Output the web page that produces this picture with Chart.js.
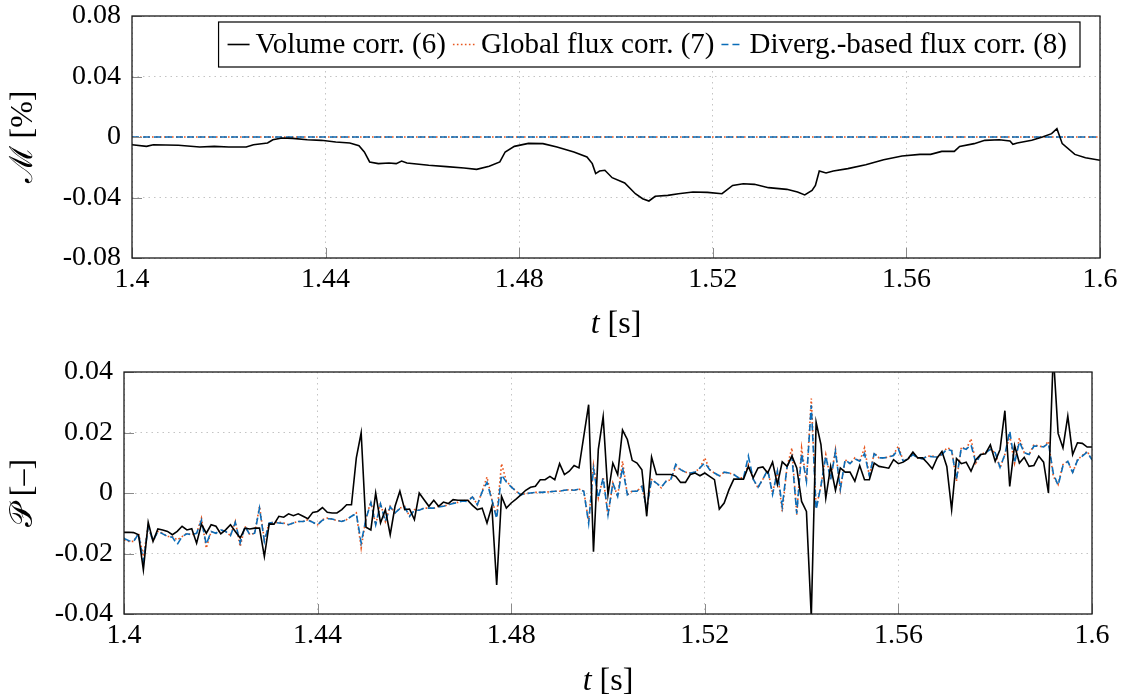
<!DOCTYPE html>
<html>
<head>
<meta charset="utf-8">
<script src="https://cdn.jsdelivr.net/npm/chart.js@4.4.1/dist/chart.umd.min.js"></script>
<style>
  html, body { margin: 0; padding: 0; background: #fff; }
  .panel { position: absolute; left: 0; width: 1125px; height: 349px; }
</style>
</head>
<body>
<div class="panel" style="top:0"><canvas id="topChart" width="1125" height="349"></canvas></div>
<div class="panel" style="top:349px"><canvas id="bottomChart" width="1125" height="349"></canvas></div>
<script>
// ---- data ----
const seriesLabels = ['Volume corr. (6)', 'Global flux corr. (7)', 'Diverg.-based flux corr. (8)'];

const xTicks = [1.4, 1.44, 1.48, 1.52, 1.56, 1.6];
const xTickLabels = ['1.4', '1.44', '1.48', '1.52', '1.56', '1.6'];
const yTicksTop = [-0.08, -0.04, 0, 0.04, 0.08];
const yTickLabelsTop = ['-0.08', '-0.04', '0', '0.04', '0.08'];
const yTicksBottom = [-0.04, -0.02, 0, 0.02, 0.04];
const yTickLabelsBottom = ['-0.04', '-0.02', '0', '0.02', '0.04'];

// top panel: mass error M [%]
const tTop = [1.400,1.403,1.4044,1.4096,1.414,1.417,1.420,1.4236,1.4251,1.428,1.4291,1.431,1.4332,1.4362,1.4391,1.4421,1.445,1.4469,1.448,1.4491,1.4509,1.4531,1.4546,1.4557,1.4568,1.4613,1.465,1.4686,1.4712,1.4738,1.476,1.4771,1.479,1.4819,1.4849,1.4878,1.4913,1.494,1.4951,1.4958,1.4966,1.4977,1.4992,1.5018,1.504,1.5055,1.5068,1.5081,1.5107,1.5129,1.5159,1.5189,1.5219,1.5241,1.5263,1.5286,1.5315,1.5353,1.5375,1.539,1.5405,1.5412,1.542,1.5434,1.5449,1.5479,1.5516,1.5553,1.5591,1.5628,1.565,1.5673,1.5699,1.571,1.574,1.5762,1.5792,1.5814,1.582,1.5829,1.5859,1.5881,1.59,1.5911,1.5922,1.5948,1.597,1.6];
const volumeTop = [-0.0051,-0.0062,-0.0051,-0.0055,-0.0066,-0.0062,-0.0066,-0.0066,-0.0051,-0.0040,-0.0018,-0.0007,-0.0009,-0.0018,-0.0022,-0.0033,-0.0040,-0.0057,-0.0099,-0.0165,-0.0176,-0.0172,-0.0176,-0.0159,-0.0172,-0.0187,-0.0196,-0.0205,-0.0214,-0.0194,-0.0165,-0.0099,-0.0062,-0.0042,-0.0044,-0.0066,-0.0099,-0.0132,-0.0176,-0.0242,-0.0225,-0.0220,-0.0269,-0.0304,-0.0375,-0.0408,-0.0423,-0.0392,-0.0386,-0.0375,-0.0364,-0.0366,-0.0375,-0.0320,-0.0309,-0.0313,-0.0335,-0.0346,-0.0364,-0.0383,-0.0353,-0.0320,-0.0225,-0.0238,-0.0225,-0.0209,-0.0183,-0.0150,-0.0126,-0.0115,-0.0115,-0.0095,-0.0095,-0.0062,-0.0044,-0.0022,-0.0018,-0.0026,-0.0048,-0.0040,-0.0022,0.0000,0.0022,0.0055,-0.0044,-0.0115,-0.0137,-0.0154];
const tFluxTop = [1.4, 1.6];
const globalTop = [0, 0];
const divergTop = [0, 0];

// bottom panel: P [-], one sample per millisecond from 1.400 s to 1.600 s
const tStart = 1.4, dt = 0.001;
const volumeBottom = [
-0.0130,-0.0130,-0.0131,-0.0138,-0.0254,-0.0097,-0.0160,-0.0119,-0.0122,-0.0127,
-0.0138,-0.0127,-0.0110,-0.0122,-0.0118,-0.0166,-0.0103,-0.0133,-0.0105,-0.0110,
-0.0135,-0.0122,-0.0105,-0.0127,-0.0149,-0.0116,-0.0119,-0.0116,-0.0116,-0.0210,
-0.0102,-0.0103,-0.0077,-0.0080,-0.0069,-0.0075,-0.0069,-0.0077,-0.0085,-0.0064,
-0.0061,-0.0048,-0.0064,-0.0066,-0.0066,-0.0055,-0.0039,-0.0039,0.0116,0.0199,
-0.0113,-0.0122,0.0000,-0.0099,-0.0055,-0.0138,-0.0044,0.0006,-0.0055,-0.0053,
-0.0088,0.0000,-0.0022,-0.0044,-0.0024,-0.0044,-0.0030,-0.0035,-0.0022,-0.0024,
-0.0024,-0.0024,-0.0041,-0.0055,-0.0050,-0.0099,-0.0044,-0.0304,-0.0011,-0.0050,
-0.0033,-0.0020,-0.0006,0.0009,0.0019,0.0022,0.0044,0.0044,0.0055,0.0044,
0.0097,0.0061,0.0072,0.0091,0.0083,0.0188,0.0292,-0.0194,0.0144,0.0252,
-0.0006,0.0099,0.0061,0.0208,0.0177,0.0108,0.0099,0.0077,-0.0077,0.0119,
0.0061,0.0061,0.0061,0.0061,0.0055,0.0035,0.0035,0.0061,0.0066,0.0057,
0.0066,0.0055,0.0044,-0.0053,-0.0033,0.0011,0.0046,0.0046,0.0046,0.0088,
0.0050,0.0083,0.0086,0.0066,0.0102,0.0028,0.0103,0.0088,0.0122,0.0083,
-0.0028,-0.0061,-0.0410,0.0234,0.0160,-0.0017,0.0088,0.0009,0.0083,0.0069,
0.0069,0.0039,0.0091,0.0044,0.0044,0.0099,0.0088,0.0085,0.0082,0.0110,
0.0097,0.0102,0.0113,0.0135,0.0116,0.0116,0.0099,0.0080,0.0116,0.0137,
0.0088,-0.0055,0.0114,0.0097,0.0102,0.0072,0.0110,0.0127,0.0130,0.0159,
0.0105,0.0144,0.0272,0.0022,0.0157,0.0099,0.0118,0.0088,0.0091,0.0122,
0.0102,0.0000,0.0460,0.0197,0.0149,0.0254,0.0127,0.0166,0.0164,0.0152,
0.0152];
const globalBottom = [
-0.0155,-0.0160,-0.0160,-0.0133,-0.0210,-0.0110,-0.0160,-0.0127,-0.0133,-0.0144,
-0.0144,-0.0155,-0.0144,-0.0133,-0.0138,-0.0133,-0.0083,-0.0182,-0.0127,-0.0133,
-0.0122,-0.0127,-0.0141,-0.0094,-0.0177,-0.0110,-0.0138,-0.0133,-0.0044,-0.0155,
-0.0099,-0.0097,-0.0097,-0.0099,-0.0105,-0.0099,-0.0094,-0.0094,-0.0088,-0.0097,
-0.0105,-0.0088,-0.0083,-0.0086,-0.0091,-0.0094,-0.0088,-0.0077,-0.0066,-0.0182,
-0.0083,-0.0028,-0.0105,-0.0033,-0.0094,-0.0044,-0.0066,-0.0050,-0.0044,-0.0077,
-0.0055,-0.0057,-0.0050,-0.0050,-0.0050,-0.0044,-0.0044,-0.0039,-0.0033,-0.0031,
-0.0024,-0.0028,-0.0011,-0.0039,0.0006,0.0053,-0.0022,-0.0077,0.0097,0.0039,
0.0022,0.0006,-0.0006,-0.0002,0.0000,0.0002,0.0002,0.0003,0.0004,0.0006,
0.0006,0.0009,0.0011,0.0009,0.0013,0.0006,-0.0094,0.0091,-0.0017,0.0053,
-0.0077,0.0033,-0.0011,0.0105,-0.0006,0.0006,0.0006,0.0022,-0.0050,0.0044,
0.0033,0.0017,0.0039,0.0044,0.0088,0.0077,0.0069,0.0066,0.0069,0.0083,
0.0116,0.0077,0.0066,0.0055,0.0069,0.0066,0.0061,0.0050,0.0050,0.0094,
0.0046,0.0017,0.0046,0.0077,0.0000,0.0072,-0.0061,0.0088,0.0149,-0.0072,
0.0149,0.0039,0.0312,-0.0050,0.0024,0.0127,0.0044,0.0144,0.0011,0.0110,
0.0097,0.0116,0.0105,0.0149,0.0055,0.0133,0.0116,0.0116,0.0119,0.0127,
0.0155,0.0105,0.0113,0.0129,0.0116,0.0113,0.0122,0.0122,0.0119,0.0127,
0.0149,0.0144,0.0039,0.0152,0.0144,0.0179,0.0099,0.0127,0.0135,0.0144,
0.0133,0.0083,0.0127,0.0190,0.0099,0.0182,0.0133,0.0127,0.0160,0.0155,
0.0152,0.0171,0.0055,0.0028,0.0094,0.0105,0.0066,0.0110,0.0124,0.0138,
0.0110];
const divergBottom = [
-0.0150,-0.0158,-0.0160,-0.0135,-0.0226,-0.0112,-0.0158,-0.0127,-0.0135,-0.0144,
-0.0146,-0.0170,-0.0144,-0.0135,-0.0138,-0.0133,-0.0090,-0.0170,-0.0127,-0.0133,
-0.0122,-0.0127,-0.0141,-0.0097,-0.0165,-0.0110,-0.0138,-0.0133,-0.0050,-0.0160,
-0.0099,-0.0097,-0.0099,-0.0101,-0.0105,-0.0099,-0.0094,-0.0094,-0.0090,-0.0097,
-0.0105,-0.0090,-0.0085,-0.0086,-0.0091,-0.0094,-0.0088,-0.0077,-0.0068,-0.0165,
-0.0085,-0.0032,-0.0105,-0.0036,-0.0094,-0.0046,-0.0066,-0.0052,-0.0046,-0.0077,
-0.0057,-0.0057,-0.0050,-0.0050,-0.0050,-0.0046,-0.0044,-0.0039,-0.0035,-0.0031,
-0.0026,-0.0028,-0.0013,-0.0039,0.0004,0.0035,-0.0022,-0.0085,0.0060,0.0036,
0.0020,0.0006,-0.0006,-0.0002,0.0000,0.0002,0.0002,0.0003,0.0004,0.0006,
0.0006,0.0009,0.0011,0.0009,0.0013,0.0006,-0.0100,0.0080,-0.0017,0.0050,
-0.0072,0.0033,-0.0011,0.0085,-0.0006,0.0006,0.0006,0.0022,-0.0050,0.0044,
0.0033,0.0019,0.0039,0.0046,0.0095,0.0077,0.0069,0.0066,0.0069,0.0083,
0.0100,0.0077,0.0066,0.0057,0.0069,0.0066,0.0061,0.0050,0.0050,0.0122,
0.0046,0.0019,0.0046,0.0077,-0.0005,0.0072,-0.0045,0.0088,0.0120,-0.0068,
0.0130,0.0039,0.0290,-0.0055,0.0024,0.0122,0.0044,0.0138,0.0013,0.0110,
0.0097,0.0113,0.0105,0.0130,0.0057,0.0130,0.0116,0.0116,0.0119,0.0124,
0.0145,0.0105,0.0113,0.0127,0.0116,0.0113,0.0122,0.0120,0.0119,0.0127,
0.0145,0.0140,0.0045,0.0150,0.0144,0.0160,0.0099,0.0127,0.0133,0.0144,
0.0133,0.0085,0.0127,0.0205,0.0099,0.0170,0.0133,0.0127,0.0155,0.0155,
0.0152,0.0165,0.0065,0.0025,0.0090,0.0105,0.0068,0.0108,0.0122,0.0135,
0.0110];

// ---- styling ----
const SERIF = '"Liberation Serif", "Times New Roman", serif';
const BLACK = '#000000';
const ORANGE = '#E8561E';
const BLUE = '#0A6CB8';
const GRID = '#c4c4c4';
const tickFont = { family: SERIF, size: 28, lineHeight: 1 };

const toPoints = (xs, ys) => ys.map((y, i) => ({ x: xs[i], y: y }));
const tBottom = volumeBottom.map((_, i) => +(tStart + i * dt).toFixed(3));

function makeDatasets(tv, volume, tf, global, diverg) {
  return [
    { label: seriesLabels[0], data: toPoints(tv, volume), borderColor: BLACK, borderWidth: 1.6, order: 0 },
    { label: seriesLabels[1], data: toPoints(tf, global), borderColor: ORANGE, borderWidth: 1.6, borderDash: [1.6, 2.4], order: 2 },
    { label: seriesLabels[2], data: toPoints(tf, diverg), borderColor: BLUE, borderWidth: 1.6, borderDash: [7, 4], order: 1 }
  ];
}

// frame, inward ticks, axis titles and the boxed legend
function decor(cfg) {
  return {
    id: 'decor',
    afterDatasetsDraw(chart) {
      const { ctx, chartArea: a, scales } = chart;
      ctx.save();
      ctx.setLineDash([]);
      ctx.strokeStyle = '#8a8a8a';
      ctx.lineWidth = 1;
      ctx.beginPath();
      scales.x.ticks.forEach(t => {
        const px = Math.round(scales.x.getPixelForValue(t.value)) + 0.5;
        ctx.moveTo(px, a.bottom); ctx.lineTo(px, a.bottom - 10);
      });
      scales.y.ticks.forEach(t => {
        const py = Math.round(scales.y.getPixelForValue(t.value)) + 0.5;
        ctx.moveTo(a.left, py); ctx.lineTo(a.left + 10, py);
      });
      ctx.stroke();
      ctx.strokeStyle = '#1a1a1a';
      ctx.lineWidth = 1.3;
      ctx.strokeRect(a.left, a.top, a.right - a.left, a.bottom - a.top);
      ctx.restore();
    },
    afterDraw(chart) {
      const { ctx, chartArea: a } = chart;
      ctx.save();
      ctx.fillStyle = '#000';

      // x title: italic t + " [s]"
      const italic = `italic 32px ${SERIF}`, upright = `32px ${SERIF}`;
      ctx.font = italic; const w1 = ctx.measureText('t').width;
      ctx.font = upright; const w2 = ctx.measureText(' [s]').width;
      const x0 = (a.left + a.right) / 2 - (w1 + w2) / 2;
      ctx.textBaseline = 'alphabetic'; ctx.textAlign = 'left';
      ctx.font = italic; ctx.fillText('t', x0, cfg.xTitleY);
      ctx.font = upright; ctx.fillText(' [s]', x0 + w1, cfg.xTitleY);

      // y title, rotated
      ctx.translate(cfg.yTitleX, (a.top + a.bottom) / 2);
      ctx.rotate(-Math.PI / 2);
      ctx.font = upright; ctx.textAlign = 'center'; ctx.textBaseline = 'alphabetic';
      ctx.fillText(cfg.yTitle, 0, 0);
      ctx.restore();

      if (!cfg.legend) return;
      ctx.save();
      const items = chart.data.datasets.map(ds => ({ text: ds.label, color: ds.borderColor, dash: ds.borderDash || [] }));
      ctx.font = `29px ${SERIF}`;
      const pad = 9, sample = 22, gapText = 6, gapItem = 7, padR = 13;
      let w = pad + padR;
      items.forEach((it, i) => { it.w = ctx.measureText(it.text).width; w += sample + gapText + it.w + (i ? gapItem : 0); });
      const right = a.right - 20, top = a.top + 6, h = 45;
      const left = right - w;
      ctx.fillStyle = '#fff';
      ctx.fillRect(left, top, w, h);
      ctx.strokeStyle = '#000'; ctx.lineWidth = 1.2;
      ctx.strokeRect(left, top, w, h);
      let x = left + pad;
      const cy = top + h / 2;
      items.forEach((it, i) => {
        if (i) x += gapItem;
        ctx.strokeStyle = it.color; ctx.lineWidth = 1.6; ctx.setLineDash(it.dash);
        ctx.beginPath(); ctx.moveTo(x, cy); ctx.lineTo(x + sample, cy); ctx.stroke();
        ctx.setLineDash([]);
        x += sample + gapText;
        ctx.fillStyle = '#000'; ctx.textAlign = 'left'; ctx.textBaseline = 'middle';
        ctx.fillText(it.text, x, cy + 1);
        x += it.w;
      });
      ctx.restore();
    }
  };
}

function noEdgePadding(s) {
  s.paddingTop = 0; s.paddingBottom = 0; s.paddingLeft = 0; s.paddingRight = 0;
}

function makeOptions(cfg) {
  return {
    responsive: false,
    animation: false,
    events: [],
    layout: { padding: { left: 0, right: cfg.padRight, top: cfg.padTop, bottom: 0 } },
    plugins: { legend: { display: false }, tooltip: { enabled: false } },
    elements: { point: { radius: 0 }, line: { tension: 0 } },
    scales: {
      x: {
        type: 'linear', min: 1.4, max: 1.6,
        afterFit: s => { s.height = cfg.xAxisHeight; noEdgePadding(s); },
        afterBuildTicks: s => { s.ticks = xTicks.map(v => ({ value: v })); },
        ticks: { font: tickFont, color: '#000', padding: 8, maxRotation: 0, autoSkip: false,
                 callback: (v, i) => xTickLabels[i] },
        grid: { color: GRID, lineWidth: 1, drawTicks: false },
        border: { display: false, dash: [1.5, 4] }
      },
      y: {
        type: 'linear', min: cfg.yTicks[0], max: cfg.yTicks[cfg.yTicks.length - 1],
        afterFit: s => { s.width = cfg.yAxisWidth; noEdgePadding(s); },
        afterBuildTicks: s => { s.ticks = cfg.yTicks.map(v => ({ value: v })); },
        ticks: { font: tickFont, color: '#000', padding: 11, autoSkip: false,
                 callback: (v, i) => cfg.yTickLabels[i] },
        grid: { color: GRID, lineWidth: 1, drawTicks: false },
        border: { display: false, dash: [1.5, 4] }
      }
    }
  };
}

const topCfg = { padRight: 25, padTop: 16, xAxisHeight: 91, yAxisWidth: 132,
  yTicks: yTicksTop, yTickLabels: yTickLabelsTop, xTitleY: 333, yTitleX: 32, yTitle: 'ℳ [%]', legend: true };
const bottomCfg = { padRight: 33, padTop: 23, xAxisHeight: 84, yAxisWidth: 124,
  yTicks: yTicksBottom, yTickLabels: yTickLabelsBottom, xTitleY: 341, yTitleX: 32, yTitle: '𝒫 [–]', legend: false };

new Chart(document.getElementById('topChart'), {
  type: 'line',
  data: { datasets: makeDatasets(tTop, volumeTop, tFluxTop, globalTop, divergTop) },
  options: makeOptions(topCfg),
  plugins: [decor(topCfg)]
});

new Chart(document.getElementById('bottomChart'), {
  type: 'line',
  data: { datasets: makeDatasets(tBottom, volumeBottom, tBottom, globalBottom, divergBottom) },
  options: makeOptions(bottomCfg),
  plugins: [decor(bottomCfg)]
});
</script>
</body>
</html>
